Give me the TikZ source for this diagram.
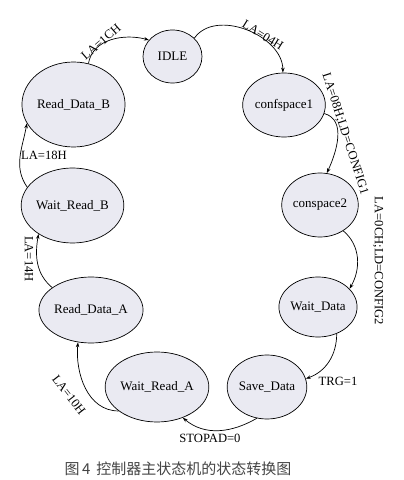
\documentclass[tikz,border=0pt]{standalone}
\usepackage{fontspec}
\setmainfont{Liberation Serif}
\newfontfamily\cjkfont{Noto Sans CJK SC}
\usetikzlibrary{shapes.geometric,arrows.meta}
\definecolor{statefill}{HTML}{EAEAF2}
\definecolor{captiongray}{HTML}{444444}
\tikzset{
  state/.style={ellipse,draw=black,line width=0.7pt,fill=statefill,inner sep=0pt,
    font=\fontsize{13}{15}\selectfont},
  trans/.style={draw=black,line width=0.7pt,-{Stealth[length=5pt,width=3.5pt]}},
  lbl/.style={font=\fontsize{12.6}{14}\selectfont,inner sep=0pt}
}
\begin{document}
\begin{tikzpicture}[x=1pt,y=1pt]
\useasboundingbox (0,0) rectangle (404,480);
\node[state,minimum width=59pt,minimum height=53pt] (idle) at (172.5,423.5) {IDLE};
\node[state,minimum width=83pt,minimum height=85pt] (rdb) at (73.5,375.5) {Read\_Data\_B};
\node[state,minimum width=70pt,minimum height=64pt] (cs1) at (284,375) {confspace1};
\node[state,minimum width=81pt,minimum height=75pt] (wrb) at (72.5,274.5) {Wait\_Read\_B};
\node[state,minimum width=70pt,minimum height=64pt] (cs2) at (320,275) {conspace2};
\node[state,minimum width=82pt,minimum height=66pt] (rda) at (91,170) {Read\_Data\_A};
\node[state,minimum width=70pt,minimum height=60pt] (wd) at (318,173) {Wait\_Data};
\node[state,minimum width=80pt,minimum height=70pt] (wra) at (157,93) {Wait\_Read\_A};
\node[state,minimum width=70pt,minimum height=64pt] (sd) at (267,93) {Save\_Data};

\draw[trans] (rdb.70) to[out=80,in=165] (idle.145);
\draw[trans] (idle.40) to[out=55,in=90] (cs1.92);
\draw[trans] (cs1.-12) to[out=-15,in=65] (cs2.78);
\draw[trans] (cs2.-48) to[out=-40,in=60] (wd.30);
\draw[trans] (wd.-55) to[out=-90,in=20] (sd.12);
\draw[trans] (sd.-108) to[out=-150,in=-40] (wra.-50);
\draw[trans] (wra.-148) to[out=180,in=-95] (rda.-112);
\draw[trans] (rda.150) to[out=140,in=-100] (wrb.-140);
\draw[trans] (wrb.158) to[out=125,in=-100] (rdb.-158);

\node[lbl,rotate=41] (l1) at (101,438) {LA=1CH};
\node[lbl,rotate=-32] (l2) at (263,445) {LA=04H};
\node[lbl,rotate=-72] (l3) at (345,346) {LA=08H;LD=CONFIG1};
\node[lbl,rotate=-90] (l4) at (378,219) {LA=0CH;LD=CONFIG2};
\node[lbl] (l5) at (338,99) {TRG=1};
\node[lbl] (l6) at (210,42) {STOPAD=0};
\node[lbl,rotate=-52] (l7) at (69,85) {LA=10H};
\node[lbl,rotate=-90] (l8) at (29,221) {LA=14H};
\node[lbl] (l9) at (44,325) {LA=18H};

\node[text=captiongray,inner sep=0pt] (cap) at (178,11)
  {\fontsize{15}{17}\selectfont\cjkfont 图\,4\, 控制器主状态机的状态转换图};
\end{tikzpicture}
\end{document}
